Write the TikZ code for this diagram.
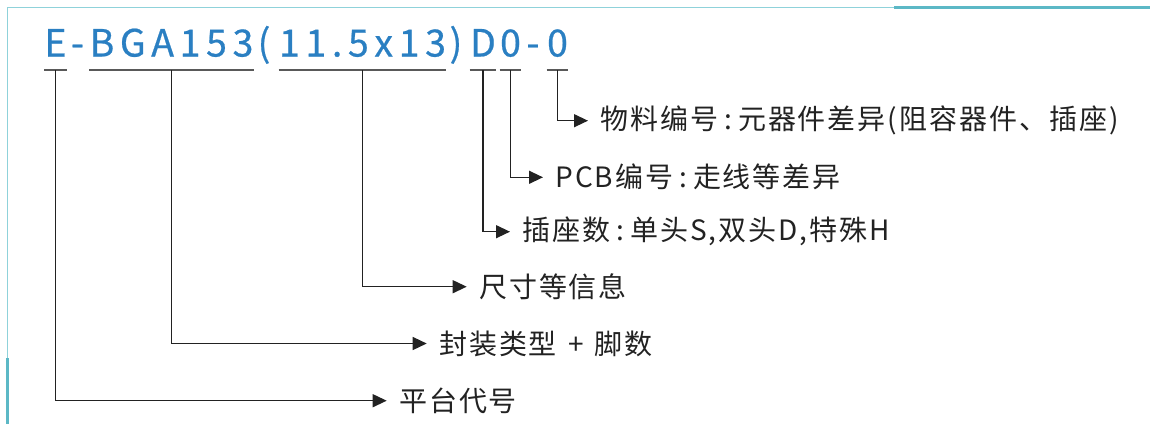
\documentclass[tikz,border=0pt]{standalone}
\usepackage{fontspec}
\usetikzlibrary{arrows.meta}
\newfontfamily\cjk{Noto Sans CJK SC}[LetterSpace=7]
\newfontfamily\cjktitle{Noto Sans CJK SC}[LetterSpace=15,FakeBold=0.6]
\definecolor{codeblue}{HTML}{2A7FC2}
\definecolor{framelight}{HTML}{8FD2DA}
\definecolor{framedark}{HTML}{5CB8C6}
\definecolor{ink}{HTML}{222222}
\newcommand\sepcolon{\hspace{3pt}:\hspace{3pt}}
\begin{document}
\begin{tikzpicture}[x=0.5pt,y=-0.5pt,
code/.style={font=\cjktitle\fontsize{18.75}{20}\selectfont,text=codeblue,inner sep=0pt,anchor=base},
part/.style={font=\cjk\fontsize{14}{16}\selectfont,text=ink,anchor=west,inner xsep=6pt,inner ysep=0pt},
link/.style={draw=ink,line width=0.65pt,-{Triangle[length=7pt,width=6.5pt]}},
uline/.style={draw=gray!70!black,line width=0.6pt}]
\useasboundingbox (0,0) rectangle (1150,424);
\draw[framelight,line width=0.5pt] (7,424) -- (7,7) -- (894,7);
\draw[framedark,line width=1.5pt] (894,7.5) -- (1150,7.5);
\draw[framedark,line width=1.5pt] (7,358) -- (7,424);
\node[code,minimum width=9.5pt] (tE) at (55.5,56.5) {E};
\node[code] (h1) at (77.5,56.5) {-};
\node[code,minimum width=79.5pt] (tB) at (171.5,56.5) {BGA153};
\node[code] (pl) at (264,56.5) {(};
\node[code,minimum width=82.5pt] (tS) at (362.5,56.5) {11.5x13};
\node[code] (pr) at (456,56.5) {)};
\node[code,minimum width=10pt] (tD) at (483,56.5) {D};
\node[code,minimum width=9.5pt] (tP) at (510.5,56.5) {0};
\node[code] (h2) at (533,56.5) {-};
\node[code,minimum width=9.5pt] (tM) at (557.5,56.5) {0};
\foreach \g in {tE,tB,tS,tD,tP,tM}
  \draw[uline] ([yshift=-6.75pt]\g.base west) -- ([yshift=-6.75pt]\g.base east);
\node[part] (lM) at (588,120.7) {物料编号\sepcolon 元器件差异(阻容器件、插座)};
\node[part] (lP) at (543,177.3) {PCB编号\sepcolon 走线等差异};
\node[part] (lD) at (510,231.7) {插座数\sepcolon 单头S,双头D,特殊H};
\node[part] (lS) at (466.7,286.7) {尺寸等信息};
\node[part] (lB) at (426.7,343.5) {封装类型\hspace{1.5pt} + \hspace{1.5pt}脚数};
\node[part] (lE) at (386.7,400.7) {平台代号};
\draw[link] ([yshift=-6.75pt]tM.base) |- (lM.west);
\draw[link] ([yshift=-6.75pt]tP.base) |- (lP.west);
\draw[link] ([yshift=-6.75pt]tD.base) |- (lD.west);
\draw[link] ([yshift=-6.75pt]tS.base) |- (lS.west);
\draw[link] ([yshift=-6.75pt]tB.base) |- (lB.west);
\draw[link] ([yshift=-6.75pt]tE.base) |- (lE.west);
\end{tikzpicture}
\end{document}
